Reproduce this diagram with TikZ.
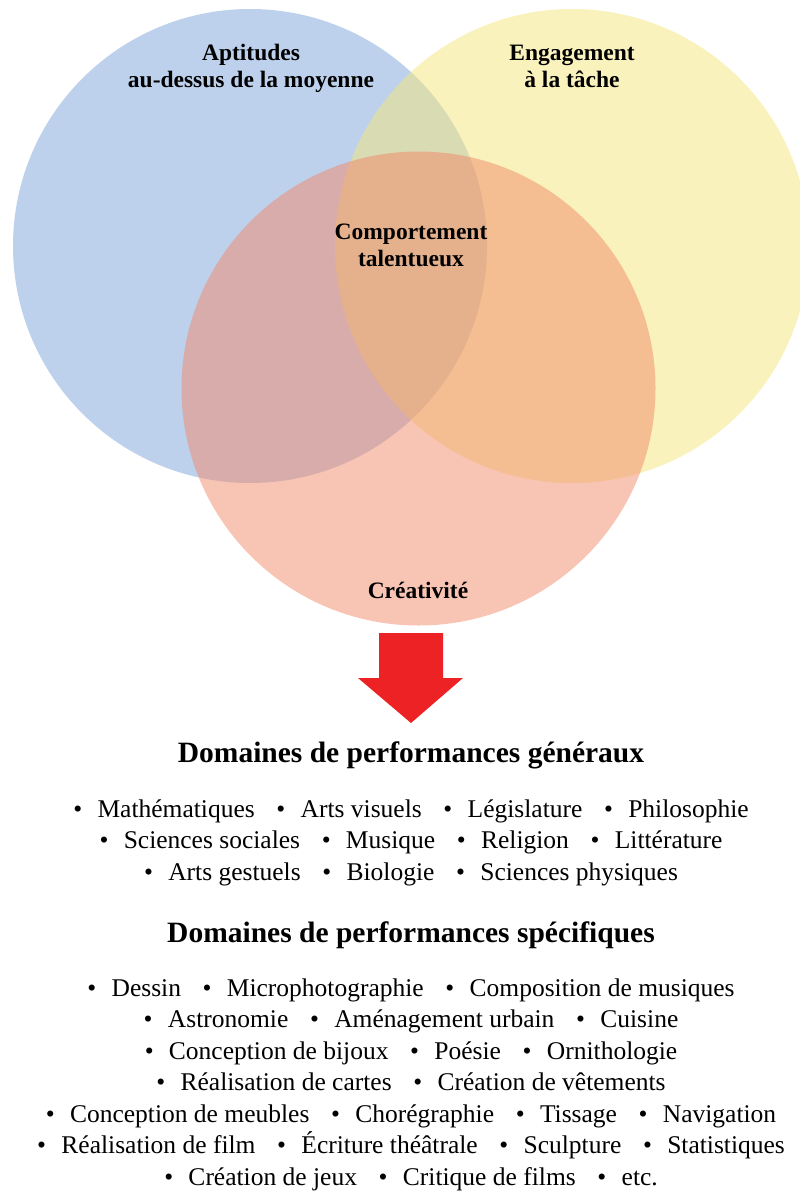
\documentclass[tikz,border=0pt]{standalone}
\usepackage{fontspec}
\setmainfont{Liberation Serif}
\definecolor{aptblue}{RGB}{189,209,236}
\definecolor{engyellow}{RGB}{245,229,121}
\definecolor{crered}{RGB}{241,137,105}
\definecolor{arrowred}{RGB}{237,34,36}
\newcommand\bul{\textbullet\hspace{0.6em}}
\newcommand\sep{\hspace{0.85em}}
\begin{document}
\begin{tikzpicture}[x=1pt,y=-1pt,
    circlab/.style={font=\fontsize{23.5}{27}\selectfont\bfseries,anchor=base,inner sep=0pt},
    heading/.style={font=\fontsize{29.5}{34}\selectfont\bfseries,anchor=base,inner sep=0pt},
    listline/.style={font=\fontsize{25.5}{30}\selectfont,anchor=base,inner sep=0pt}]
  \useasboundingbox (0,0) rectangle (800,1191);
  % the three circles
  \fill[aptblue] (250,246) circle (237pt);
  \fill[engyellow,fill opacity=0.5] (572,246) circle (237pt);
  \fill[crered,fill opacity=0.5] (418.5,388.5) circle (237pt);
  \draw
    (251,60) node[circlab] (apt1){Aptitudes}
    (251,87) node[circlab] (apt2){au-dessus de la moyenne}
    (572,60) node[circlab] (eng1){Engagement}
    (572,87) node[circlab] (eng2){à la tâche}
    (411,239) node[circlab] (comp1){Comportement}
    (411,266) node[circlab] (comp2){talentueux}
    (418,598) node[circlab] (cre){Créativité};
  % arrow
  \fill[arrowred] (379,633) -- (443,633) -- (443,678) -- (463,678)
    -- (411,723) -- (358,678) -- (379,678) -- cycle;
  \draw
    (411,762) node[heading] (gen){Domaines de performances généraux}
    (411,817) node[listline] (g1){\bul Mathématiques\sep\bul Arts visuels\sep\bul Législature\sep\bul Philosophie}
    (411,848.5) node[listline] (g2){\bul Sciences sociales\sep\bul Musique\sep\bul Religion\sep\bul Littérature}
    (411,880) node[listline] (g3){\bul Arts gestuels\sep\bul Biologie\sep\bul Sciences physiques}
    (411,942) node[heading] (spe){Domaines de performances spécifiques}
    (411,996) node[listline] (s1){\bul Dessin\sep\bul Microphotographie\sep\bul Composition de musiques}
    (411,1027.5) node[listline] (s2){\bul Astronomie\sep\bul Aménagement urbain\sep\bul Cuisine}
    (411,1059) node[listline] (s3){\bul Conception de bijoux\sep\bul Poésie\sep\bul Ornithologie}
    (411,1090.5) node[listline] (s4){\bul Réalisation de cartes\sep\bul Création de vêtements}
    (411,1122) node[listline] (s5){\bul Conception de meubles\sep\bul Chorégraphie\sep\bul Tissage\sep\bul Navigation}
    (411,1153.5) node[listline] (s6){\bul Réalisation de film\sep\bul Écriture théâtrale\sep\bul Sculpture\sep\bul Statistiques}
    (411,1185) node[listline] (s7){\bul Création de jeux\sep\bul Critique de films\sep\bul etc.};
\end{tikzpicture}
\end{document}
